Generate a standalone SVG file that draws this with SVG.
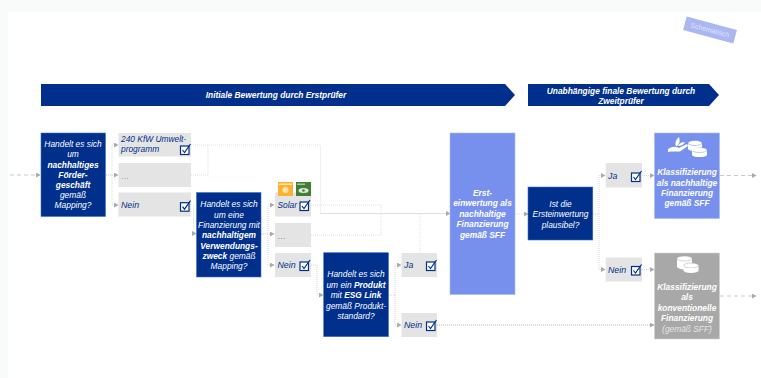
<svg xmlns="http://www.w3.org/2000/svg" width="761" height="378" viewBox="0 0 761 378">
<style>
text{font-family:"Liberation Sans",Arial,sans-serif;font-size:8.4px;font-style:italic;text-anchor:middle}
.w{fill:#fff}.wb{fill:#fff;font-weight:bold}.b{fill:#003087;text-anchor:start}
.s{font-size:8.800px}
.navy{fill:#00308c;stroke:#3f74c4;stroke-width:.6}
.peri{fill:#7790ee;stroke:#a9bbf3;stroke-width:.6}
.grey{fill:#a8a8a8;stroke:#cfcfcf;stroke-width:.6}
.opt{fill:#e4e4e4}
.chk{fill:#fff;stroke:#003087;stroke-width:1.2}
.tick{fill:none;stroke:#003087;stroke-width:1.2}
.c{fill:none;stroke:#d4d4d4;stroke-width:.9;stroke-dasharray:1 1;marker-end:url(#a)}
.n{fill:none;stroke:#e0e0e0;stroke-width:1;stroke-dasharray:1 1}
.d{fill:none;stroke:#c4c4c4;stroke-width:.9;stroke-dasharray:4 3;marker-end:url(#a)}
.m{fill:none;stroke:#b4b4b4;stroke-width:.9;stroke-dasharray:1 1;marker-end:url(#a)}
</style>
<defs>
<marker id="a" markerWidth="5" markerHeight="5" refX="4" refY="2.500" orient="auto" markerUnits="userSpaceOnUse"><path d="M0 0L4.500 2.500L0 5z" fill="#aaa"/></marker>
<g id="k"><rect class="chk" x="0" y="2" width="8.500" height="8.500"/><path class="tick" d="M2 6L4 8.500L10 0"/></g>
</defs>
<rect width="761" height="378" fill="#fff"/>
<rect width="761" height="12" fill="#f9fbfb"/>
<rect width="8" height="378" fill="#f9fbfb"/>
<g id="connectors">
<path class="d" d="M10 175H40"/>
<path class="c" d="M106 175H112V145H118"/>
<path class="c" d="M106 175H118"/>
<path class="c" d="M112 175V205H118"/>
<path class="n" d="M191 145H320.500V213"/>
<path class="n" d="M191 175H208V145"/>
<path class="c" d="M191 205H193.500V233.500H196"/>
<path class="c" d="M261 234H268V205H274"/>
<path class="c" d="M261 234H274"/>
<path class="c" d="M268 234V265H274"/>
<path class="n" d="M311 205H381V213"/>
<path class="n" d="M311 235H381V213"/>
<path class="m" d="M320.500 213.500H450"/>
<path class="n" d="M420 253V214"/>
<path class="c" d="M311 265H317V295H323"/>
<path class="c" d="M389 295H395V265H401"/>
<path class="c" d="M395 295V325H401"/>
<path class="m" d="M437 325H654"/>
<path class="c" d="M515 214H528"/>
<path class="c" d="M593 214H599V175.500H605"/>
<path class="c" d="M599 214V269.500H605"/>
<path class="c" d="M642 175.500H654"/>
<path class="c" d="M642 269.500H654"/>
<path class="d" d="M720 175.500H756"/>
<path class="d" d="M720 296H756"/>
</g>
<g id="banner1"><path d="M41 84H505L515 95L505 106H41z" fill="#00308c"/><text class="wb" x="276" y="98">Initiale Bewertung durch Erstprüfer</text></g>
<g id="banner2"><path d="M528 84H709L719 95L709 106H528z" fill="#00308c"/><text class="wb" x="621" y="93.500">Unabhängige finale Bewertung durch</text><text class="wb" x="621" y="103.500">Zweitprüfer</text></g>
<g id="schematisch"><rect x="684" y="23" width="52" height="14" fill="#aab7f2" transform="rotate(15 710 30)"/><text x="710" y="32.500" style="font-size:7px;font-style:normal" fill="#dfe4fb" transform="rotate(15 710 30)">Schematisch</text></g>
<g id="q1"><rect class="navy" x="41" y="133" width="64.500" height="83.500"/>
<text class="w" x="73" y="147">Handelt es sich</text><text class="w" x="73" y="157">um</text><text class="wb" x="73" y="168">nachhaltiges</text><text class="wb" x="73" y="178">Förder-</text><text class="wb" x="73" y="188">geschäft</text><text class="w" x="73" y="198">gemäß</text><text class="w" x="73" y="208">Mapping?</text></g>
<g id="o1"><rect class="opt" x="118.500" y="133" width="72.500" height="23.500"/><text class="b" x="121" y="142">240 KfW Umwelt-</text><text class="b" x="121" y="152">programm</text><use href="#k" x="180.500" y="144"/></g>
<g id="o2"><rect class="opt" x="118.500" y="163" width="72.500" height="24"/><text class="b" x="121" y="179" fill-opacity=".5">…</text></g>
<g id="o3"><rect class="opt" x="118.500" y="192.500" width="72.500" height="24"/><text class="b s" x="121" y="208">Nein</text><use href="#k" x="180.500" y="200.700"/></g>
<g id="q2"><rect class="navy" x="196.500" y="192.500" width="64.500" height="84.500"/>
<text class="w" x="229" y="207">Handelt es sich</text><text class="w" x="229" y="218">um eine</text><text class="w" x="229" y="228">Finanzierung mit</text><text class="wb" x="229" y="238">nachhaltigem</text><text class="wb" x="229" y="248.500">Verwendungs-</text><text x="229" y="259" class="w"><tspan font-weight="bold">zweck</tspan> gemäß</text><text class="w" x="229" y="269">Mapping?</text></g>
<g id="o4"><rect class="opt" x="275" y="192.500" width="36" height="24"/><text class="b" x="277.500" y="208">Solar</text><use href="#k" x="300" y="200"/>
<rect x="278" y="182" width="15" height="14" fill="#f9b233"/><circle cx="285.500" cy="190" r="3" fill="#fde3a7"/><rect x="279" y="183.500" width="13" height="1.500" fill="#fde3a7"/><rect x="296" y="182" width="15" height="14" fill="#3f7e34"/><rect x="297" y="183.500" width="8" height="1.500" fill="#a9c4a2"/><ellipse cx="303.500" cy="190.500" rx="5" ry="2.500" fill="#dfe9da"/><circle cx="303.500" cy="190.500" r="1.300" fill="#3f7e34"/></g>
<g id="o5"><rect class="opt" x="275" y="223" width="36" height="24"/><text class="b" x="277.500" y="239" fill-opacity=".6">…</text></g>
<g id="o6"><rect class="opt" x="275" y="253" width="36" height="24"/><text class="b s" x="277.500" y="268">Nein</text><use href="#k" x="300" y="260"/></g>
<g id="q3"><rect class="navy" x="323.700" y="252.700" width="64.800" height="84"/>
<text class="w" x="356" y="277">Handelt es sich</text><text x="356" y="288" class="w">um ein <tspan font-weight="bold">Produkt</tspan></text><text x="356" y="298" class="w">mit <tspan font-weight="bold">ESG Link</tspan></text><text class="w" x="356" y="308.500">gemäß Produkt-</text><text class="w" x="356" y="319">standard?</text></g>
<g id="o7"><rect class="opt" x="401.500" y="253" width="35.500" height="24"/><text class="b s" x="404" y="268">Ja</text><use href="#k" x="426.500" y="260"/></g>
<g id="o8"><rect class="opt" x="401.500" y="313" width="35.500" height="24"/><text class="b s" x="404" y="328">Nein</text><use href="#k" x="426.500" y="320"/></g>
<g id="erst"><rect class="peri" x="450" y="133" width="65" height="161.500"/>
<text class="wb" x="482.500" y="196">Erst-</text><text class="wb" x="482.500" y="206">einwertung als</text><text class="wb" x="482.500" y="217">nachhaltige</text><text class="wb" x="482.500" y="227">Finanzierung</text><text class="wb" x="482.500" y="237.500">gemäß SFF</text></g>
<g id="q4"><rect class="navy" x="528" y="187" width="64.800" height="53"/>
<text class="w" x="560.500" y="207">Ist die</text><text class="w" x="560.500" y="217">Ersteinwertung</text><text class="w" x="560.500" y="227.500">plausibel?</text></g>
<g id="o9"><rect class="opt" x="605.700" y="163" width="36.300" height="24.500"/><text class="b s" x="608" y="179">Ja</text><use href="#k" x="631.500" y="171"/></g>
<g id="o10"><rect class="opt" x="605.700" y="257.500" width="36.300" height="24"/><text class="b s" x="608" y="272.500">Nein</text><use href="#k" x="631.500" y="264.500"/></g>
<g id="k1"><rect class="peri" x="654.500" y="133" width="65" height="85.500"/>
<path d="M668 149Q674 145 679 148L687 144L688 146L680 151.500H671L668 152Z" fill="#fff"/><path d="M676 146Q674 141 679 137Q681 143 677 146ZM678 146Q680 142 685 142Q683 146 678 146Z" fill="#fff"/>
<rect x="688" y="143" width="14" height="6" fill="#fff"/><ellipse cx="695" cy="143" rx="7" ry="2.500" fill="#fff" stroke="#7790ee" stroke-width=".5"/>
<rect x="692" y="150" width="15" height="5" fill="#fff"/><ellipse cx="699.500" cy="150" rx="7.500" ry="2.500" fill="#fff" stroke="#7790ee" stroke-width=".5"/><ellipse cx="699.500" cy="155" rx="7.500" ry="2" fill="#fff"/><ellipse cx="695" cy="149" rx="7" ry="2" fill="#fff" opacity=".9"/>
<text class="wb" x="687" y="175">Klassifizierung</text><text class="wb" x="687" y="185.500">als nachhaltige</text><text class="wb" x="687" y="196">Finanzierung</text><text class="wb" x="687" y="206">gemäß SFF</text></g>
<g id="k2"><rect class="grey" x="654.500" y="253" width="65" height="86"/>
<rect x="677" y="258.500" width="15" height="8" fill="#fff"/><ellipse cx="684.500" cy="258.500" rx="7.500" ry="2.500" fill="#fff" stroke="#a8a8a8" stroke-width=".5"/><ellipse cx="684.500" cy="266.500" rx="7.500" ry="3" fill="#fff"/>
<rect x="683.500" y="265.500" width="15" height="5" fill="#fff"/><ellipse cx="691" cy="265.500" rx="7.500" ry="2.500" fill="#fff" stroke="#a8a8a8" stroke-width=".5"/><ellipse cx="691" cy="270.500" rx="7.500" ry="2.500" fill="#fff"/>
<text class="wb" x="687" y="290">Klassifizierung</text><text class="wb" x="687" y="300">als</text><text class="wb" x="687" y="310.500">konventionelle</text><text class="wb" x="687" y="320.500">Finanzierung</text><text x="687" y="332" fill="#e6e6e6">(gemäß SFF)</text></g>
</svg>
